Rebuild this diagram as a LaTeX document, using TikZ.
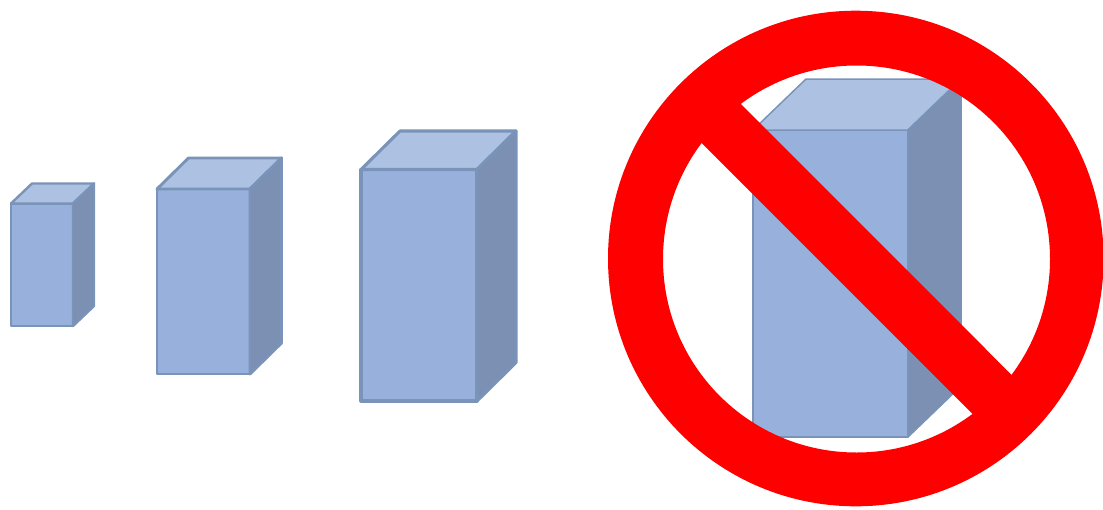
\documentclass[tikz,border=0pt]{standalone}
\definecolor{cubefront}{HTML}{98B1DC}
\definecolor{cubetop}{HTML}{ADC2E3}
\definecolor{cubeside}{HTML}{7B90B2}
\definecolor{cubeedge}{HTML}{7A93B8}
\definecolor{signred}{HTML}{FF0000}
\tikzset{
  cubeface/.style={draw=cubeedge,line width=#1,line join=round},
  cubeface/.default=2.2pt,
  signpart/.style={fill=signred,draw=none},
}
% left, right of front; top, bottom of front; depth x, depth y; line width
\newcommand{\boxshape}[7]{
  \fill[cubefront,cubeface=#7] (#1,#3) rectangle (#2,#4);
  \fill[cubetop,cubeface=#7] (#1,#3) -- (#1+#5,#3-#6) -- (#2+#5,#3-#6) -- (#2,#3) -- cycle;
  \fill[cubeside,cubeface=#7] (#2,#3) -- (#2+#5,#3-#6) -- (#2+#5,#4-#6) -- (#2,#4) -- cycle;
}
\begin{document}
\begin{tikzpicture}[x=1pt,y=-1pt]
  \useasboundingbox (0,0) rectangle (1103,509);
  \fill[white] (0,0) rectangle (1103,509);
  \boxshape{11}{73}{203.5}{326}{21}{20}{2.4pt}
  \boxshape{157}{250}{189}{374}{31.5}{31}{2.9pt}
  \boxshape{361}{477}{169.5}{401}{39}{38.5}{3.1pt}
  \boxshape{753}{908}{130}{437}{53}{51}{1.5pt}
  \fill[signpart,even odd rule] (855.8,258.5) circle[radius=247.8] (856.5,259) circle[radius=193.5];
  \fill[signpart] (722,85) -- (1031,394.3) -- (991,432.3) -- (682,123.3) -- cycle;
\end{tikzpicture}
\end{document}
